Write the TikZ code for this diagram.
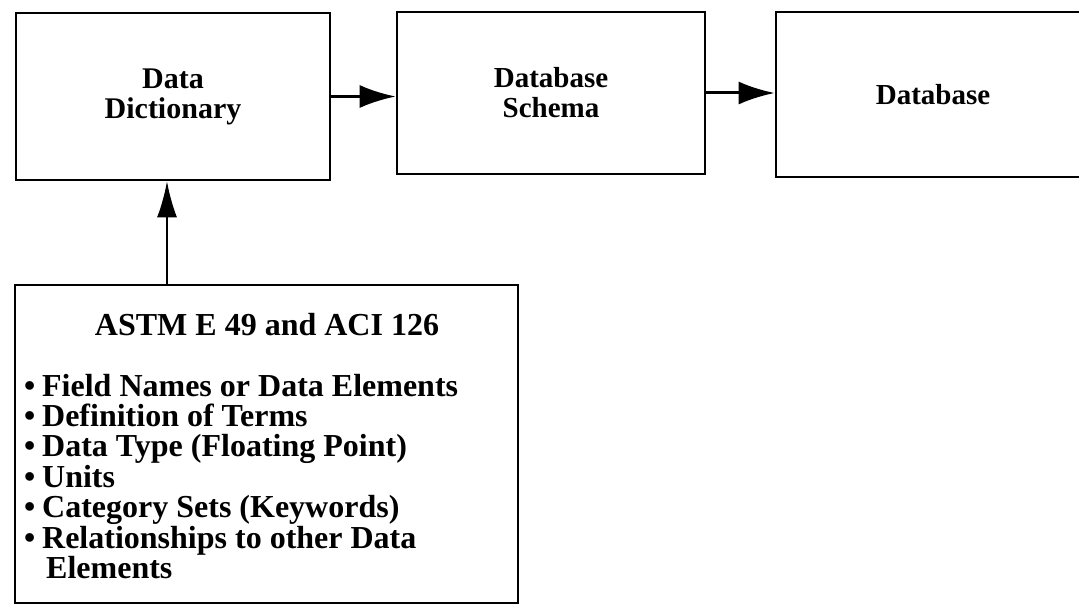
\documentclass[tikz,border=0pt]{standalone}
\usepackage{fontspec}
\setmainfont{Liberation Serif}
\usepackage{tikz}
\usetikzlibrary{arrows.meta,positioning}

\begin{document}
\begin{tikzpicture}[x=1pt,y=-1pt,
  box/.style={draw,line width=2.6pt,inner sep=0pt,align=center,
    font=\fontsize{29}{30}\selectfont\bfseries},
  listtext/.style={inner sep=0pt,anchor=base west,
    font=\fontsize{32}{30}\selectfont\bfseries},
  flow/.style={line width=3pt,-{Latex[length=36pt,width=23pt]}},
  feed/.style={line width=2pt,-{Latex[length=36pt,width=20pt]}}]
\useasboundingbox (0,0) rectangle (1079,604);

% Top row of boxes
\node[box,minimum width=314pt,minimum height=167pt,
  font=\fontsize{30}{30}\selectfont\bfseries] (dict) at (173,96.5) {Data\\Dictionary};
\node[box,minimum width=308pt,minimum height=162pt] (schema) at (551,93) {Database\\Schema};
\node[box,minimum width=314pt,minimum height=165pt] (db) at (933,94.5) {Database};

% Arrows between them
\draw[flow] (dict.east) -- (dict.east -| schema.west);
\draw[flow] (schema.east) -- (schema.east -| db.west);

% Standards box
\node[box,minimum width=503pt,minimum height=318pt] (astm) at (266.5,444) {};
\node[listtext,anchor=base] (title) at (267,335) {ASTM E 49 and ACI 126};
\foreach \i/\txt in {0/Field Names or Data Elements, 1/Definition of Terms,
    2/Data Type (Floating Point), 3/Units, 4/Category Sets (Keywords),
    5/Relationships to other Data}
  \node[listtext] (item\i) at (24,{396+30.4*\i}) {\makebox[18pt][l]{•}\txt};
\node[listtext] (item6) at (46,578) {Elements};

% Feeds the dictionary
\draw[feed] ([xshift=-6pt]dict.south |- astm.north) -- ([xshift=-6pt]dict.south);
\end{tikzpicture}
\end{document}
